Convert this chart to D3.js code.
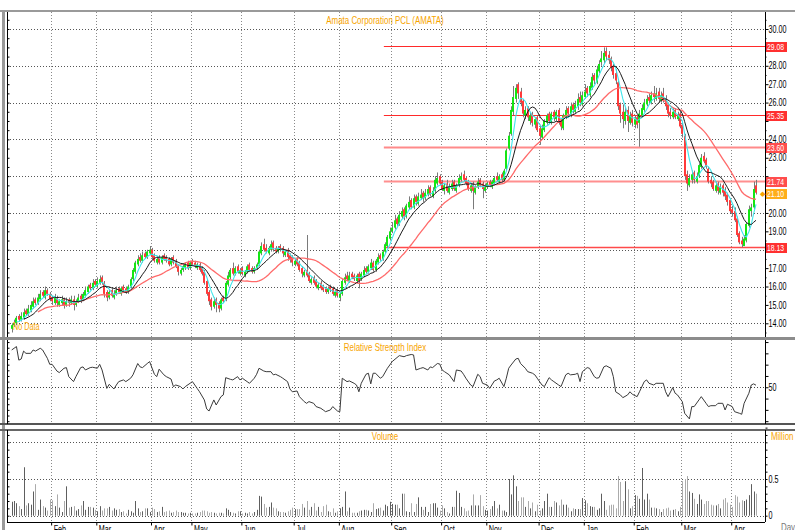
<!DOCTYPE html>
<html><head><meta charset="utf-8">
<script src="https://cdn.jsdelivr.net/npm/d3@7"></script>
<style>
body{margin:0;background:#fff;}
svg text{font-family:"Liberation Sans",Arial,sans-serif;}
</style></head><body><svg id="c" width="795" height="530"></svg>
<script>
// ---------------- DATA ----------------
const title = "Amata Corporation PCL (AMATA)";
const monthNames = ["Jan","Feb","Mar","Apr","May","Jun","Jul","Aug","Sep","Oct","Nov","Dec","Jan","Feb","Mar","Apr"];
const tradingDays = [17,19,23,17,21,22,19,22,21,19,22,19,21,20,21,11];
const priceTicks = [14,15,16,17,18,19,20,21,22,23,24,25,26,27,28,29,30];
const priceGrid = [14,16,18,20,22,24,26,28,30];
const levels = [29.08,25.35,23.60,21.74,18.13];
const lastPrice = 21.10;
const rsiTicks = [50];
const volTicks = [0,0.5];
const volGrid = [0,0.5,1];

const opens = [13.7,13.9,14.0,14.4,14.2,14.3,14.7,14.5,14.7,14.9,
15.3,15.1,15.3,15.7,15.4,15.8,15.6,15.4,15.1,15.4,
15.0,15.1,15.3,15.0,15.3,15.1,15.3,15.0,15.2,15.5,
15.3,15.5,15.7,16.1,15.9,16.3,16.0,16.2,16.5,16.2,
15.7,15.4,15.8,15.4,15.6,15.9,15.6,16.0,15.9,15.7,
16.0,16.4,16.8,17.2,17.6,17.4,17.8,17.6,17.8,18.0,
17.7,17.3,17.6,17.3,17.7,17.6,17.5,17.2,17.6,17.4,
17.1,16.7,16.9,17.0,17.3,17.0,17.4,17.3,17.0,17.2,
17.0,16.8,16.3,15.7,15.3,14.9,15.3,15.1,14.8,15.4,
15.3,16.1,16.5,17.0,16.7,17.1,16.7,17.0,16.6,16.8,
17.2,17.0,16.8,17.0,17.2,17.8,18.3,18.1,17.8,18.0,
18.4,18.1,17.9,18.2,18.1,17.7,18.0,17.7,17.6,17.2,
17.5,17.3,17.0,16.6,16.9,16.7,16.2,16.5,16.3,15.9,
16.2,16.0,15.9,15.7,16.0,15.9,15.5,15.8,15.4,15.6,
16.2,16.6,16.3,16.7,16.6,16.3,16.7,16.4,16.6,17.0,
16.8,17.0,17.3,16.9,17.3,17.7,17.5,17.9,18.2,18.6,
19.0,19.2,19.7,19.4,19.8,20.2,19.8,20.3,20.7,20.3,
20.9,20.5,20.8,21.1,20.8,21.0,21.4,20.9,21.2,21.6,
22.0,21.7,21.2,21.6,21.1,21.3,21.7,21.2,21.5,21.8,
22.1,21.9,21.7,21.2,21.6,21.1,21.4,21.8,21.6,21.2,
21.4,21.7,21.4,21.6,22.0,21.7,22.1,21.8,22.4,23.5,
24.3,25.5,26.2,27.0,26.6,26.1,25.3,25.7,25.0,25.4,
24.8,25.2,24.6,24.1,24.5,24.9,25.4,24.9,25.5,25.1,
25.6,25.0,24.6,25.2,25.7,25.3,25.9,25.5,25.8,26.3,
25.9,26.3,26.8,26.4,26.8,27.5,27.1,27.7,28.2,28.3,
28.8,28.6,28.4,28.0,27.6,27.1,25.9,25.5,25.0,25.6,
24.9,25.4,24.8,25.2,24.9,25.3,25.6,25.9,26.3,26.0,
26.5,26.2,26.6,26.1,26.5,26.2,25.9,25.5,25.2,25.6,
25.1,25.4,24.8,24.2,22.1,21.5,21.8,22.2,21.7,22.0,
22.5,23.1,22.9,22.4,21.8,21.7,21.2,21.6,21.1,21.5,
21.2,21.0,20.7,20.2,20.1,19.7,18.9,18.5,18.2,18.5,
19.3,20.1,20.3,21.5];
const highs = [14.0,14.2,14.4,14.5,14.6,14.8,14.8,15.0,15.2,15.4,
15.4,15.6,15.8,15.8,16.0,15.9,15.7,15.5,15.6,15.5,
15.3,15.5,15.4,15.4,15.4,15.5,15.5,15.3,15.6,15.6,
15.7,16.0,16.1,16.2,16.4,16.4,16.5,16.6,16.6,16.3,
15.8,15.8,15.9,15.8,16.0,16.0,16.0,16.1,16.0,16.1,
16.5,17.0,17.4,17.7,17.8,17.9,17.9,18.0,18.2,18.1,
17.8,17.6,17.7,17.7,17.8,17.7,17.6,17.6,17.7,17.5,
17.2,17.0,17.2,17.3,17.4,17.4,17.5,17.4,17.3,17.3,
17.1,16.9,16.4,15.8,15.4,15.4,15.4,15.2,15.4,15.5,
16.3,16.8,17.0,17.3,17.1,17.2,17.0,17.1,16.9,17.2,
17.3,17.1,17.1,17.3,18.0,18.4,18.6,18.3,18.2,18.5,
18.5,18.2,18.2,18.3,18.2,18.0,18.1,17.8,17.7,17.5,
17.6,17.4,17.1,16.9,18.8,16.8,16.5,16.6,16.4,16.2,
16.3,16.1,16.0,16.0,16.1,16.0,15.8,15.9,15.7,16.4,
16.7,16.8,16.8,16.8,16.7,16.7,16.8,16.8,17.1,17.1,
17.2,17.5,17.4,17.5,17.8,17.8,18.0,18.4,18.8,19.2,
19.5,19.9,19.8,20.1,20.3,20.3,20.5,20.9,20.8,21.0,
21.0,21.1,21.3,21.2,21.3,21.5,21.5,21.4,22.0,22.2,
22.1,21.8,21.6,21.8,21.6,21.8,21.8,21.6,22.1,22.2,
22.3,22.0,21.8,21.6,21.7,21.5,21.9,21.9,21.7,21.6,
21.7,21.8,21.8,22.0,22.2,22.1,22.2,22.4,23.5,24.4,
25.8,26.9,27.0,27.1,26.8,26.2,25.8,25.8,25.5,25.5,
25.2,25.3,24.8,24.8,25.1,25.4,25.5,25.5,25.6,25.6,
25.7,25.1,25.4,25.8,25.8,26.0,26.0,26.1,26.5,26.6,
26.6,27.0,26.9,27.1,27.6,27.6,28.0,28.3,28.8,29.0,
29.0,28.8,28.5,28.1,27.8,27.2,26.0,25.9,25.7,25.8,
25.5,25.6,25.3,25.3,25.6,25.9,26.2,26.4,26.5,26.6,
26.9,26.8,26.8,26.6,26.8,26.4,26.0,25.7,25.7,25.7,
25.5,25.5,24.9,24.3,22.3,22.1,22.3,22.3,22.2,22.7,
23.2,23.3,23.0,22.5,22.0,21.8,21.7,21.7,21.6,21.6,
21.4,21.1,20.8,20.4,20.3,19.8,19.0,18.7,18.8,19.5,
20.4,20.5,21.7,21.8];
const lows = [13.5,13.8,13.9,14.1,14.1,14.2,14.4,14.4,14.6,14.8,
15.0,15.0,15.2,15.4,15.3,15.5,15.2,15.0,15.0,14.9,
14.9,15.0,14.8,14.9,14.9,15.0,14.7,14.9,15.1,15.1,
15.2,15.4,15.6,15.8,15.8,16.0,15.9,16.1,16.1,15.4,
15.2,15.3,15.4,15.3,15.5,15.6,15.5,15.7,15.6,15.6,
15.9,16.3,16.7,17.1,17.3,17.3,17.5,17.5,17.7,17.5,
17.3,17.2,17.2,17.2,17.4,17.3,17.1,17.1,17.2,17.0,
16.6,16.6,16.8,16.9,16.9,16.9,17.1,17.0,16.9,16.8,
16.6,16.1,15.5,15.0,14.7,14.8,14.6,14.6,14.7,15.1,
15.2,16.0,16.4,16.6,16.6,16.7,16.6,16.6,16.5,16.7,
16.8,16.7,16.7,16.9,17.1,17.7,17.9,17.8,17.7,17.9,
17.9,17.8,17.8,17.9,17.6,17.6,17.4,17.3,17.1,17.1,
17.1,16.8,16.5,16.5,16.5,16.2,16.1,16.1,15.9,15.8,
15.8,15.7,15.6,15.6,15.7,15.5,15.4,15.4,15.2,15.5,
16.1,16.3,16.2,16.4,16.3,16.2,15.9,16.3,16.5,16.7,
16.7,16.9,16.8,16.8,17.2,17.4,17.4,17.8,18.1,18.5,
18.9,19.1,19.3,19.3,19.7,19.6,19.7,20.2,20.2,20.2,
20.4,20.4,20.7,20.6,20.7,20.9,20.9,20.8,21.1,21.5,
21.5,21.2,21.0,21.1,21.0,21.2,21.2,21.1,21.4,21.7,
21.7,21.5,21.2,21.1,20.2,21.0,21.3,21.4,20.8,21.1,
21.3,21.4,21.3,21.5,21.7,21.6,21.7,21.7,22.3,23.4,
24.2,25.3,26.0,26.2,25.8,25.2,25.1,25.0,24.8,24.7,
24.6,24.4,23.7,24.0,24.4,24.8,24.9,24.8,25.0,25.0,
24.8,24.5,24.5,25.1,25.2,25.2,25.4,25.4,25.6,25.8,
25.8,26.2,26.3,26.3,26.7,27.0,27.0,27.6,28.0,28.1,
28.3,28.1,27.7,27.3,27.0,25.6,24.9,24.6,24.8,24.4,
24.8,24.7,24.6,24.6,23.6,25.2,25.5,25.8,25.9,25.9,
26.0,26.1,26.0,26.0,26.0,25.6,25.2,25.1,25.1,25.1,
25.0,24.6,24.1,21.8,21.2,21.4,21.6,21.6,21.6,21.9,
22.4,22.7,22.4,21.6,21.4,21.2,21.1,21.0,21.0,20.9,
20.7,20.4,20.0,19.8,19.5,18.7,18.3,18.13,18.2,18.4,
19.2,19.8,20.2,21.0];
const closes = [13.9,14.0,14.3,14.2,14.4,14.6,14.5,14.8,15.0,15.2,
15.1,15.4,15.6,15.5,15.8,15.6,15.3,15.2,15.4,15.1,
15.2,15.3,15.0,15.2,15.1,15.3,15.0,15.2,15.4,15.3,
15.6,15.8,16.0,15.9,16.2,16.1,16.3,16.4,16.2,15.6,
15.4,15.7,15.5,15.6,15.8,15.7,15.9,15.8,15.7,16.0,
16.4,16.9,17.3,17.5,17.4,17.7,17.6,17.9,18.0,17.6,
17.4,17.5,17.3,17.6,17.5,17.4,17.2,17.5,17.3,17.1,
16.8,16.9,17.1,17.2,17.0,17.3,17.2,17.1,17.2,16.9,
16.7,16.2,15.6,15.2,14.9,15.2,15.0,14.8,15.3,15.2,
16.2,16.6,16.9,16.7,17.0,16.8,16.9,16.7,16.8,17.1,
16.9,16.8,17.0,17.2,17.9,18.2,18.0,17.9,18.1,18.3,
18.0,17.9,18.1,18.0,17.8,17.9,17.6,17.5,17.3,17.4,
17.2,16.9,16.7,16.8,16.6,16.3,16.4,16.2,16.0,16.1,
15.9,15.8,15.7,15.9,15.8,15.6,15.7,15.5,15.6,16.3,
16.5,16.4,16.6,16.5,16.4,16.6,16.3,16.7,16.9,16.8,
17.1,17.3,16.9,17.4,17.6,17.5,17.9,18.3,18.7,19.0,
19.2,19.6,19.4,19.9,20.1,19.8,20.4,20.6,20.3,20.8,
20.6,20.9,21.0,20.8,21.1,21.3,21.0,21.2,21.8,21.9,
21.6,21.3,21.5,21.2,21.4,21.6,21.3,21.5,21.9,22.0,
21.8,21.6,21.3,21.5,21.2,21.4,21.7,21.5,21.3,21.4,
21.6,21.5,21.7,21.9,21.8,22.0,21.8,22.3,23.4,24.2,
25.6,26.3,26.8,26.5,26.0,25.4,25.6,25.2,25.3,24.9,
25.1,24.5,24.2,24.6,25.0,25.3,25.0,25.4,25.2,25.5,
24.9,24.7,25.3,25.6,25.4,25.8,25.6,25.9,26.2,26.0,
26.4,26.6,26.5,26.9,27.4,27.2,27.8,28.1,28.4,28.7,
28.5,28.3,27.9,27.5,27.2,25.8,25.4,25.1,25.5,25.0,
25.3,24.9,25.1,24.8,25.4,25.7,26.0,26.2,26.1,26.4,
26.3,26.5,26.2,26.4,26.1,25.8,25.4,25.3,25.5,25.2,
25.3,24.7,24.3,22.0,21.6,21.9,22.1,21.8,22.0,22.6,
23.0,22.8,22.5,21.7,21.6,21.3,21.5,21.2,21.4,21.1,
20.9,20.6,20.1,20.0,19.6,18.8,18.4,18.3,18.6,19.4,
20.2,20.3,21.3,21.1];
const volumes = [0.19,0.2,0.17,0.13,0.09,0.66,0.14,0.17,0.15,0.33,
0.43,0.08,0.22,0.13,0.11,0.07,0.22,0.21,0.13,0.29,
0.11,0.05,0.2,0.4,0.11,0.12,0.13,0.07,0.09,0.14,
0.2,0.08,0.12,0.12,0.11,0.08,0.06,0.13,0.07,0.1,
0.1,0.12,0.07,0.1,0.08,0.09,0.05,0.06,0.03,0.08,
0.06,0.04,0.2,0.1,0.05,0.06,0.1,0.1,0.05,0.11,
0.09,0.05,0.06,0.12,0.05,0.06,0.07,0.04,0.05,0.07,
0.05,0.05,0.04,0.04,0.03,0.04,0.03,0.03,0.04,0.05,
0.07,0.07,0.06,0.04,0.05,0.04,0.03,0.04,0.04,0.03,
0.1,0.08,0.05,0.04,0.03,0.06,0.06,0.03,0.04,0.03,
0.05,0.03,0.05,0.08,0.27,0.26,0.16,0.11,0.12,0.18,
0.11,0.1,0.06,0.05,0.05,0.04,0.06,0.08,0.11,0.09,
0.09,0.09,0.16,0.11,0.2,0.08,0.12,0.17,0.07,0.12,
0.05,0.13,0.15,0.06,0.05,0.1,0.04,0.06,0.1,0.12,
0.33,0.06,0.11,0.04,0.04,0.04,0.06,0.07,0.08,0.08,
0.07,0.05,0.17,0.09,0.1,0.11,0.07,0.15,0.13,0.19,
0.16,0.15,0.15,0.1,0.3,0.3,0.06,0.05,0.17,0.05,
0.16,0.25,0.12,0.08,0.12,0.05,0.16,0.17,0.17,0.11,
0.07,0.14,0.1,0.05,0.03,0.12,0.12,0.34,0.31,0.12,
0.1,0.06,0.07,0.14,0.29,0.14,0.14,0.28,0.13,0.08,
0.07,0.09,0.13,0.2,0.1,0.15,0.07,0.07,0.05,0.5,
0.29,0.55,0.4,0.2,0.25,0.25,0.12,0.2,0.1,0.18,
0.06,0.15,0.07,0.1,0.2,0.3,0.12,0.12,0.2,0.18,
0.14,0.22,0.15,0.15,0.11,0.06,0.1,0.09,0.09,0.09,
0.24,0.21,0.17,0.13,0.12,0.12,0.08,0.1,0.3,0.2,
0.08,0.14,0.15,0.15,0.1,0.54,0.46,0.2,0.47,0.36,
0.1,0.13,0.28,0.27,0.23,0.65,0.22,0.3,0.22,0.11,
0.11,0.1,0.09,0.05,0.09,0.1,0.11,0.07,0.08,0.09,
0.06,0.12,0.47,0.5,0.54,0.33,0.31,0.23,0.16,0.29,
0.22,0.16,0.2,0.2,0.15,0.14,0.14,0.16,0.1,0.22,
0.24,0.18,0.15,0.12,0.28,0.26,0.18,0.21,0.2,0.22,
0.28,0.43,0.33,0.3];
const rsiPoints = [[0,83],[1,84.5],[2,86],[3,74],[4,75],[5,82],[6,80],[8,80],[9,83],[10,82],[12,84.5],[13,83],[15,75.6],[16,70.3],[17,70.3],[19,64.4],[20,63],[22,66.8],[23,67.4],[24,59.4],[26,55],[27,59.4],[29,67.4],[30,68],[31,65.3],[33,67.4],[34,67.7],[36,66.8],[37,70.3],[38,65.3],[40,49],[41,52.6],[43,48.5],[44,52],[45,55],[47,56.5],[48,55],[50,58],[51,61],[53,71],[54,68],[55,67.4],[57,71],[58,72.7],[60,61.5],[61,59.4],[62,66],[64,61],[65,59.4],[67,57.3],[68,50.6],[69,52],[71,50.6],[72,48.5],[73,50.6],[75,53.5],[76,55],[78,49],[79,46],[81,38.8],[82,30.8],[83,29],[85,38.8],[86,34.3],[88,41.7],[89,43.2],[90,58.5],[92,57],[93,56.5],[95,59.4],[96,56.5],[97,58],[99,55],[100,53.5],[102,58],[103,61.5],[104,66.8],[106,64.4],[107,63.8],[109,63.8],[110,61],[111,61.5],[113,59.4],[114,58],[116,55],[117,48.5],[118,46],[120,46.7],[121,41.7],[123,37.3],[124,35.8],[125,37.3],[127,35.8],[128,32.9],[130,31.4],[131,29.9],[132,28.4],[134,29.9],[135,32.9],[137,29],[138,28.4],[139,58],[141,55],[142,55.6],[144,53.5],[145,52],[146,46],[147,53.5],[149,61.5],[150,62.4],[151,53],[152,62.4],[153,62.4],[155,58],[156,59.4],[158,66.8],[159,69.7],[160,72.7],[163,78],[165,77],[166,78],[168,79],[169,78.6],[170,65.3],[172,66.8],[173,67.4],[175,65.3],[176,68],[177,67.4],[179,71],[180,70.6],[181,65.3],[182,63.8],[184,61],[186,55],[187,65.3],[189,64.4],[190,61.5],[191,58],[193,52],[194,50.6],[196,61.5],[197,59.4],[198,53.5],[200,52],[201,49],[203,55.6],[204,56.5],[205,58],[207,50.6],[208,58],[209,66.8],[210,69.7],[212,75],[213,75.6],[214,71],[216,66.8],[217,63.8],[219,62.4],[220,61],[221,58],[223,52],[224,50.6],[226,58.5],[227,56.5],[228,55],[230,52],[231,50.6],[233,61],[234,62.4],[235,61],[237,61.5],[238,62.4],[239,55],[240,63.8],[242,67.4],[243,66.8],[245,59.4],[246,58],[247,58.5],[249,68],[250,69],[252,66.8],[253,59.4],[254,46],[256,43.2],[257,40.8],[259,43.2],[260,46],[261,43.8],[263,41.7],[264,46],[266,55],[267,56.5],[268,53.5],[270,52],[271,53.5],[273,53.5],[274,53.5],[275,46],[276,41.7],[278,49.7],[279,44.7],[280,43.2],[282,37.3],[283,27],[285,22],[286,32.9],[287,32.9],[289,38.8],[290,41.7],[292,35.8],[293,32.9],[294,33.7],[296,33.7],[297,35.8],[299,35.8],[300,29.9],[301,35],[303,32.9],[304,28.4],[306,27],[307,26.1],[308,35.8],[310,44.7],[311,52],[312,53],[313,51.8]];

// ---------------- CHART ----------------
const svg = d3.select("#c");
const n = closes.length;
const x = d3.scaleLinear().domain([0, n - 1]).range([11.7, 756]);
const L = 7, R = 765;
const P = {top: 12, bottom: 337}, Q = {top: 340, bottom: 424}, V = {top: 430, bottom: 522};
const y = d3.scaleLinear().domain([14, 30]).range([323.3, 29]);
const yR = d3.scaleLinear().domain([17.5, 92.7]).range([424, 339]);
const yV = d3.scaleLinear().domain([0, 1]).range([515.7, 442.3]);
const fmt2 = d3.format(".2f");
const orange = "#f7a400";
const SQ = 0.72; // horizontal squeeze of the narrow chart font

function squeeze(sel) {
  sel.each(function () {
    const w = this.getComputedTextLength();
    d3.select(this).attr("textLength", w * SQ).attr("lengthAdjust", "spacingAndGlyphs");
  });
}

svg.append("rect").attr("width", 795).attr("height", 530).attr("fill", "#fff");

const defs = svg.append("defs");
[["cp", P], ["cr", Q], ["cv", V]].forEach(([id, p]) => {
  defs.append("clipPath").attr("id", id).append("rect")
    .attr("x", L).attr("y", p.top).attr("width", R - L).attr("height", p.bottom - p.top);
});

const starts = [];
tradingDays.reduce((acc, d) => { starts.push(acc); return acc + d; }, 0);
const monthIdx = d3.range(1, starts.length);

[P, Q, V].forEach(p => {
  svg.append("g").selectAll("line").data(monthIdx).join("line")
    .attr("x1", k => Math.round(x(starts[k])) - 0.5).attr("x2", k => Math.round(x(starts[k])) - 0.5)
    .attr("y1", p.top).attr("y2", p.bottom)
    .attr("stroke", "#8a8a8a").attr("stroke-dasharray", "1,2");
});

svg.append("g").selectAll("line").data(priceGrid).join("line")
  .attr("x1", L).attr("x2", R).attr("y1", d => Math.round(y(d)) + 0.5).attr("y2", d => Math.round(y(d)) + 0.5)
  .attr("stroke", "#555").attr("stroke-dasharray", "1,2");

const levelStyle = {"29.08": ["#ff2a2a", 1], "25.35": ["#ff2a2a", 1.2], "23.6": ["#ff8a8a", 2], "21.74": ["#ff8f8f", 2], "18.13": ["#ff4a4a", 1.6]};
const gLev = svg.append("g");
levels.forEach(v => {
  const st = levelStyle[String(v)];
  gLev.append("line").attr("x1", x(156.5)).attr("x2", R).attr("y1", Math.round(y(v)) + 0.5).attr("y2", Math.round(y(v)) + 0.5)
    .attr("stroke", st[0]).attr("stroke-width", st[1]);
});

const gC = svg.append("g").attr("clip-path", "url(#cp)");
const idx = d3.range(n);
gC.selectAll("line.w").data(idx).join("line").attr("class", "w")
  .attr("x1", i => Math.round(x(i)) + 0.5).attr("x2", i => Math.round(x(i)) + 0.5)
  .attr("y1", i => y(highs[i])).attr("y2", i => y(lows[i]))
  .attr("stroke", "#7a7a7a").attr("stroke-width", 1);
gC.selectAll("rect").data(idx).join("rect")
  .attr("x", i => Math.round(x(i)) - 1).attr("width", 2)
  .attr("y", i => y(Math.max(opens[i], closes[i])))
  .attr("height", i => Math.max(1, Math.abs(y(opens[i]) - y(closes[i]))))
  .attr("fill", i => closes[i] >= opens[i] ? "#14e614" : "#ff3a3a");

function sma(period, from) {
  return idx.map(i => {
    if (i < from) return null;
    const s = Math.max(0, i - period + 1);
    return d3.mean(closes.slice(s, i + 1));
  });
}
const maFast = sma(5, 2), maMid = sma(10, 5), maSlow = sma(25, 11);
const line = d3.line().defined(d => d[1] != null).x(d => x(d[0])).y(d => y(d[1]));
[[maSlow, "#ff6a6a", 1.3], [maFast, "#3ee6ec", 1.1], [maMid, "#1a1a1a", 1]].forEach(([arr, c, w]) => {
  gC.append("path").datum(arr.map((v, i) => [i, v])).attr("d", line)
    .attr("fill", "none").attr("stroke", c).attr("stroke-width", w);
});

// RSI
svg.append("line").attr("x1", L).attr("x2", R).attr("y1", Math.round(yR(50)) + 0.5).attr("y2", Math.round(yR(50)) + 0.5)
  .attr("stroke", "#444").attr("stroke-dasharray", "1,2");
svg.append("path").attr("clip-path", "url(#cr)")
  .datum(rsiPoints).attr("d", d3.line().x(d => x(d[0])).y(d => yR(d[1])))
  .attr("fill", "none").attr("stroke", "#3a3a3a").attr("stroke-width", 1);

// Volume
svg.append("g").selectAll("line").data(volGrid).join("line")
  .attr("x1", L).attr("x2", R).attr("y1", d => Math.round(yV(d)) + 0.5).attr("y2", d => Math.round(yV(d)) + 0.5)
  .attr("stroke", "#555").attr("stroke-dasharray", "1,2");
svg.append("g").attr("clip-path", "url(#cv)").selectAll("rect").data(idx).join("rect")
  .attr("x", i => Math.round(x(i))).attr("width", 1)
  .attr("y", i => yV(volumes[i])).attr("height", i => yV(0) - yV(volumes[i]))
  .attr("fill", i => closes[i] >= opens[i] ? "#5e5e5e" : "#ababab");

// frames
svg.append("rect").attr("x", 0).attr("y", 10).attr("width", 795).attr("height", 2).attr("fill", "#9a9a9a");
svg.append("rect").attr("x", 2).attr("y", 10).attr("width", 3).attr("height", 520).attr("fill", "#9a9a9a");
svg.append("rect").attr("x", 0).attr("y", 337).attr("width", 795).attr("height", 3).attr("fill", "#8c8c8c");
svg.append("rect").attr("x", 0).attr("y", 423).attr("width", 795).attr("height", 2).attr("fill", "#555");
svg.append("rect").attr("x", 0).attr("y", 429).attr("width", 795).attr("height", 2).attr("fill", "#666");
svg.append("line").attr("x1", L).attr("x2", R).attr("y1", 522.5).attr("y2", 522.5).attr("stroke", "#000");

function styleAxis(g) {
  g.select(".domain").attr("stroke", "#000");
  g.selectAll(".tick line").attr("stroke", "#000");
  g.selectAll("text").attr("fill", "#000").attr("font-size", 10).attr("font-family", "Liberation Sans, Arial, sans-serif");
}
const leftMinor = [[y, d3.range(13.5, 31, 0.5), P], [yR, d3.range(20, 95, 5), Q], [yV, d3.range(0, 1.25, 0.1), V]];
leftMinor.forEach(([sc, tv, p]) => {
  const g = svg.append("g").attr("transform", `translate(${L + 0.5},0)`)
    .call(d3.axisRight(sc).tickValues(tv.filter(v => sc(v) >= p.top && sc(v) <= p.bottom)).tickSize(2).tickSizeOuter(0).tickFormat(""));
  g.select(".domain").attr("d", `M0,${p.top}V${p.bottom}`);
  styleAxis(g);
});
// price labels hidden where a level/last-price badge sits on top of them
const badgeVals = levels.concat([lastPrice]);
const covered = d => badgeVals.some(b => Math.abs(y(b) - y(d)) < 7);
const gPR = svg.append("g").attr("transform", `translate(${R + 0.5},0)`)
  .call(d3.axisRight(y).tickValues(priceTicks).tickSize(3).tickSizeOuter(0).tickFormat(d => covered(d) ? "" : fmt2(d)).tickPadding(0));
gPR.select(".domain").attr("d", `M0,${P.top}V${P.bottom}`);
styleAxis(gPR);
const gPRm = svg.append("g").attr("transform", `translate(${R + 0.5},0)`)
  .call(d3.axisRight(y).tickValues(d3.range(13.5, 31, 1)).tickSize(1).tickFormat(""));
gPRm.select(".domain").remove(); gPRm.selectAll("line").attr("stroke", "#000");

const gRR = svg.append("g").attr("transform", `translate(${R + 0.5},0)`)
  .call(d3.axisRight(yR).tickValues(d3.range(20, 95, 10)).tickSize(3).tickSizeOuter(0).tickFormat(d => rsiTicks.includes(d) ? String(d) : "").tickPadding(0));
gRR.select(".domain").attr("d", `M0,${Q.top}V${Q.bottom}`);
styleAxis(gRR);

const gVR = svg.append("g").attr("transform", `translate(${R + 0.5},0)`)
  .call(d3.axisRight(yV).tickValues(d3.range(0, 1.21, 0.1)).tickSize(2).tickSizeOuter(0)
    .tickFormat(d => { const t = volTicks.find(v => Math.abs(v - d) < 1e-6); return t === undefined ? "" : String(t); }).tickPadding(1));
gVR.select(".domain").attr("d", `M0,${V.top}V${V.bottom}`);
styleAxis(gVR);
[gPR, gRR, gVR].forEach(g => squeeze(g.selectAll("text").filter(function () { return this.textContent !== ""; })));

// level labels
const gLL = svg.append("g");
levels.forEach(v => {
  const st = levelStyle[String(v)];
  gLL.append("rect").attr("x", 766).attr("y", Math.round(y(v)) - 4).attr("width", 21).attr("height", 10).attr("fill", st[1] >= 2 ? "#ff4d4d" : "#ff3030");
  gLL.append("text").attr("x", 767).attr("y", Math.round(y(v)) + 4)
    .attr("fill", "#fff").attr("font-size", 9.5).text(fmt2(v));
});
gLL.append("rect").attr("x", 766).attr("y", Math.round(y(lastPrice)) - 4).attr("width", 21).attr("height", 10).attr("fill", "#ffae1a");
gLL.append("text").attr("x", 767).attr("y", Math.round(y(lastPrice)) + 4)
  .attr("fill", "#fff").attr("font-size", 9.5).text(fmt2(lastPrice));
squeeze(gLL.selectAll("text"));
gLL.append("text").attr("x", 762).attr("y", Math.round(y(lastPrice)) + 3).attr("text-anchor", "middle")
  .attr("fill", orange).attr("font-size", 7).text("\u25C6");

// bottom month axis
const gB = svg.append("g").attr("transform", "translate(0,522.5)")
  .call(d3.axisBottom(x).tickValues(monthIdx.map(k => starts[k])).tickSize(3).tickFormat((d, j) => monthNames[monthIdx[j]]));
gB.select(".domain").remove();
gB.selectAll(".tick line").attr("stroke", "#000").attr("transform", "translate(-1,0)");
gB.selectAll("text").attr("text-anchor", "start").attr("x", 1).attr("y", 1).attr("dy", "0.9em")
  .attr("fill", "#000").attr("font-size", 10).attr("font-family", "Liberation Sans, Arial, sans-serif");
squeeze(gB.selectAll("text"));

// titles
const gT = svg.append("g");
gT.append("text").attr("x", 385).attr("y", 24).attr("text-anchor", "middle").attr("fill", orange).attr("font-size", 11).text(title);
gT.append("text").attr("x", 385).attr("y", 351).attr("text-anchor", "middle").attr("fill", orange).attr("font-size", 11).text("Relative Strength Index");
gT.append("text").attr("x", 385).attr("y", 440).attr("text-anchor", "middle").attr("fill", orange).attr("font-size", 11).text("Volume");
gT.append("text").attr("x", 771).attr("y", 440).attr("fill", orange).attr("font-size", 11).text("Million");
gT.append("text").attr("x", 781).attr("y", 531).attr("fill", "#777").attr("font-size", 11).text("Day");
gT.append("text").attr("x", 13).attr("y", 330).attr("fill", orange).attr("font-size", 10).text("No Data");
squeeze(gT.selectAll("text"));
</script></body></html>
